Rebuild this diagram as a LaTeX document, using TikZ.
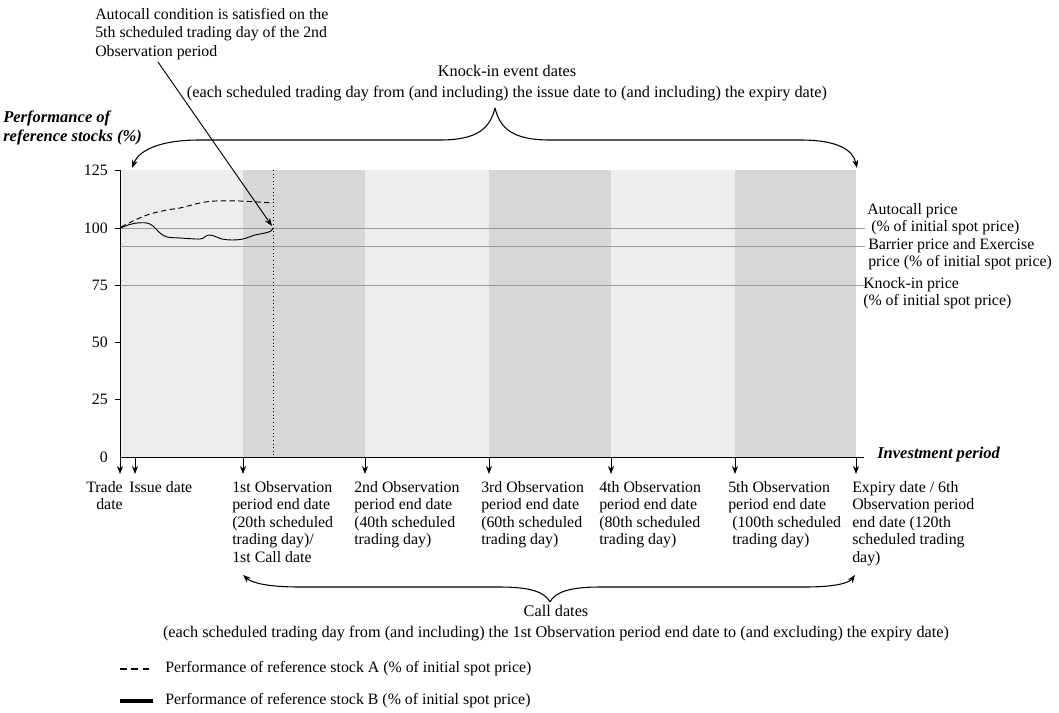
\documentclass[tikz,border=0pt]{standalone}
\usepackage{fontspec}
\setmainfont{Liberation Serif}
\usetikzlibrary{arrows.meta}
\definecolor{bandlight}{HTML}{EDEDED}
\definecolor{banddark}{HTML}{D6D7D9}
\definecolor{refline}{HTML}{9A9A9A}
\tikzset{
  lbl/.style={inner sep=0pt, align=left},
  span/.style={inner sep=0pt, align=center, font=\fontsize{12.2}{13.4}\selectfont},
  axtitle/.style={inner sep=0pt, align=left, font=\fontsize{12.4}{13.6}\selectfont\bfseries\itshape},
  tip/.style={-{Stealth[length=6pt,width=4.5pt]}},
}
\begin{document}
\begin{tikzpicture}[x=0.75pt,y=-0.75pt,font=\fontsize{11.9}{13.1}\selectfont]
  \useasboundingbox (0,0) rectangle (1059,713);
  % observation periods
  \fill[bandlight] (120,170) rectangle (856,457);
  \foreach \a/\b in {243/365,489/611,735/856} {\fill[banddark] (\a,170) rectangle (\b,457);}
  % autocall, barrier and knock-in levels
  \foreach \y in {228,246,285} {\draw[refline, line width=0.6pt] (120,\y) -- (865,\y);}
  \draw[dotted, line width=0.7pt] (273,170) -- (273,457);
  % axes
  \draw[line width=0.6pt] (120,170) -- (120,457) -- (864,457);
  \foreach \p [count=\i from 0] in {0,25,50,75,100,125} {
    \ifnum\i>0 \draw[line width=0.6pt] (115,457-2.29*\p) -- (120,457-2.29*\p);\fi
    \node[anchor=east, inner sep=0pt] (y\i) at (108,457-2.29*\p) {\p};}
  \node[axtitle, anchor=north west] (ytitle) at (3,111) {Performance of\\reference stocks (\%)};
  \node[axtitle, anchor=west] (xtitle) at (877,455) {Investment period};
  % stocks
  \draw[dash pattern=on 4pt off 2.5pt, line width=0.7pt] plot[smooth] coordinates {(121,227) (135,220) (150,214) (167,210) (180,208) (200,203) (215,201) (240,201) (273,203)};
  \draw[line width=0.7pt] plot[smooth] coordinates {(121,228) (128,225) (137,223) (147,223) (153,226) (160,233) (167,237) (180,238) (200,239) (206,236) (209,235) (214,236) (222,239) (232,240) (243,239) (255,235) (265,233) (271,231) (273,228)};
  % dates on the time axis
  \foreach \x [count=\i] in {120,135,243,365,489,611,735,856} {\draw[tip, line width=0.6pt] (\x,457) -- (\x,474);}
  \node[lbl, anchor=north east, align=right] (trade) at (123,481) {Trade\\date};
  \node[lbl, anchor=north west] (issue) at (129,481) {Issue date};
  \node[lbl, anchor=north west] (obs1) at (232,481) {1st Observation\\period end date\\(20th scheduled\\trading day)/\\1st Call date};
  \node[lbl, anchor=north west] (obs2) at (354,481) {2nd Observation\\period end date\\(40th scheduled\\trading day)};
  \node[lbl, anchor=north west] (obs3) at (481,481) {3rd Observation\\period end date\\(60th scheduled\\trading day)};
  \node[lbl, anchor=north west] (obs4) at (599,481) {4th Observation\\period end date\\(80th scheduled\\trading day)};
  \node[lbl, anchor=north west] (obs5) at (728,481) {5th Observation\\period end date\\\hspace*{3pt}(100th scheduled\\\hspace*{3pt}trading day)};
  \node[lbl, anchor=north west] (expiry) at (852,481) {Expiry date / 6th\\Observation period\\end date (120th\\scheduled trading\\day)};
  % price levels
  \node[lbl, anchor=north west] (acl) at (867,203) {Autocall price\\\hspace*{3pt}(\% of initial spot price)};
  \node[lbl, anchor=north west] (bar) at (868,238) {Barrier price and Exercise\\price (\% of initial spot price)};
  \node[lbl, anchor=north west] (kil) at (863,277) {Knock-in price\\(\% of initial spot price)};
  % autocall note
  \node[lbl, anchor=north west, font=\fontsize{11.9}{13.9}\selectfont] (acnote) at (95,8) {Autocall condition is satisfied on the\\5th scheduled trading day of the 2nd\\Observation period};
  \coordinate (acfrom) at (158,62);
  \coordinate (acpt) at (272,226);
  \draw[tip, line width=0.7pt] (acfrom) -- (acpt);
  % knock-in event dates
  \node[span] (kitxt) at (507,83) {Knock-in event dates\\[2.5pt](each scheduled trading day from (and including) the issue date to (and including) the expiry date)};
  \coordinate (kicusp) at (495,108);
  \coordinate (kiL) at (132,168);
  \coordinate (kiR) at (857,168);
  \draw[tip, line width=0.8pt] (kicusp) .. controls (490,128) and (478,140) .. (440,140) -- (200,140) .. controls (160,140) and (139,150) .. (kiL);
  \draw[tip, line width=0.8pt] (kicusp) .. controls (500,128) and (512,140) .. (550,140) -- (800,140) .. controls (838,140) and (853,150) .. (kiR);
  % call dates
  \node[span] (cdtxt) at (556,623) {Call dates\\[2.5pt](each scheduled trading day from (and including) the 1st Observation period end date to (and excluding) the expiry date)};
  \coordinate (cdcusp) at (550,602);
  \coordinate (cdL) at (243,575);
  \coordinate (cdR) at (855,575);
  \draw[tip, line width=0.8pt] (cdcusp) .. controls (545,592) and (530,587) .. (500,587) -- (300,587) .. controls (268,587) and (252,583) .. (cdL);
  \draw[tip, line width=0.8pt] (cdcusp) .. controls (555,592) and (570,587) .. (600,587) -- (805,587) .. controls (835,587) and (849,583) .. (cdR);
  % legend
  \node[lbl, anchor=west] (lgA) at (165,669) {Performance of reference stock A (\% of initial spot price)};
  \node[lbl, anchor=west] (lgB) at (165,701) {Performance of reference stock B (\% of initial spot price)};
  \draw[dash pattern=on 5pt off 3.5pt, line width=0.8pt] (120,669) -- (153,669);
  \draw[line width=3pt] (120,701) -- (153,701);
\end{tikzpicture}
\end{document}
